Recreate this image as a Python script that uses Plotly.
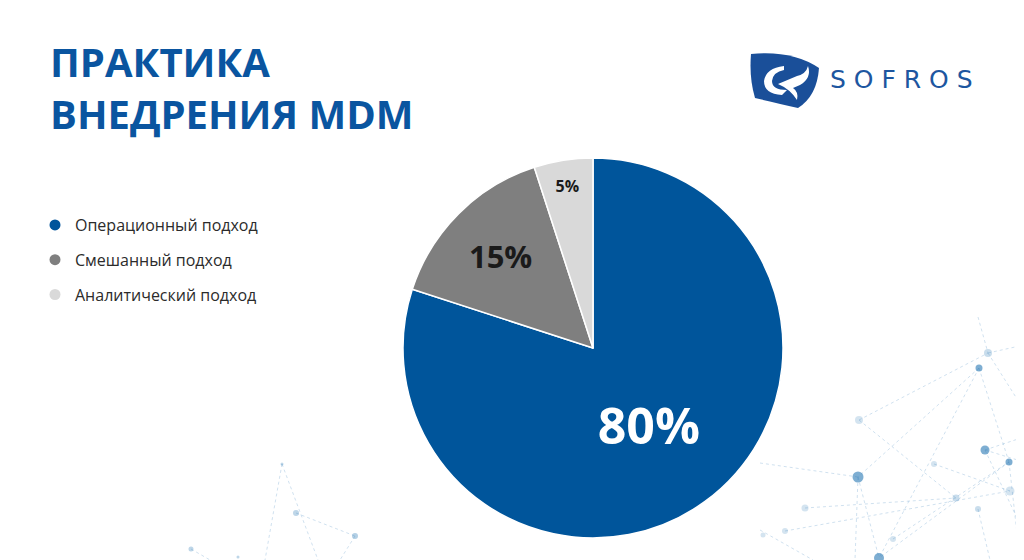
import plotly.graph_objects as go

# chart data
labels = ["Операционный подход", "Смешанный подход", "Аналитический подход"]
shares = [80, 15, 5]
colors = ["#00559b", "#7f7f7f", "#d9d9d9"]
text_colors = ["#ffffff", "#1a1a1a", "#1a1a1a"]
text_sizes = [50, 31, 16]

title_lines = ["ПРАКТИКА", "ВНЕДРЕНИЯ MDM"]

W, H = 1024, 560
OFF = 8  # page offset of the plot inside the browser window

# pie geometry in screen pixels
cx, cy, rad = 593, 348, 190

fig = go.Figure()

fig.add_trace(go.Pie(
    labels=labels,
    values=shares,
    sort=False,
    direction="clockwise",
    rotation=0,
    marker=dict(colors=colors, line=dict(color="#ffffff", width=1.5)),
    texttemplate="%{percent:.0%}",
    textposition="inside",
    insidetextorientation="horizontal",
    textfont=dict(family="Open Sans", size=text_sizes, color=text_colors, weight="bold"),
    domain=dict(x=[(cx - OFF - rad) / W, (cx - OFF + rad) / W],
                y=[(H - (cy - OFF) - rad) / H, (H - (cy - OFF) + rad) / H]),
    showlegend=False,
    hoverinfo="label+percent",
))

# legend with round markers
for name, c in zip(labels, colors):
    fig.add_trace(go.Scatter(
        x=[None], y=[None], mode="markers", name=name,
        marker=dict(color=c, size=11, symbol="circle"),
        legendgroup=name,
    ))

# background network decoration (screen pixels)
nodes = [
    (988, 353, 4, 0.25), (979, 368, 3.5, 0.6), (1021, 380, 4, 0.2),
    (859, 420, 4, 0.2), (985, 450, 4.5, 0.6), (1009, 462, 3.5, 0.6),
    (934, 464, 3, 0.2), (858, 477, 5.5, 0.6), (956, 498, 3.5, 0.25),
    (1010, 491, 4.5, 0.2), (978, 509, 3, 0.25), (805, 508, 3.5, 0.2),
    (785, 531, 3, 0.2), (763, 535, 2.5, 0.2), (893, 539, 3, 0.2),
    (879, 558, 5, 0.6),
    (282, 464, 1.5, 0.3), (296, 513, 3, 0.3), (355, 536, 3, 0.35),
    (191, 549, 2.5, 0.3), (238, 557, 1.5, 0.3),
]
edges = [
    ((979, 368), (858, 477)), ((979, 368), (879, 558)), ((859, 420), (988, 353)),
    ((859, 420), (956, 498)), ((760, 463), (858, 477)), ((858, 477), (879, 558)),
    ((858, 477), (855, 560)), ((985, 450), (1024, 462)), ((985, 450), (1024, 437)),
    ((1009, 462), (879, 558)), ((985, 450), (1024, 533)), ((805, 508), (956, 498)),
    ((760, 530), (813, 560)), ((979, 368), (1009, 462)), ((988, 353), (1024, 410)),
    ((978, 317), (988, 353)), ((934, 464), (1010, 491)), ((785, 531), (1010, 491)),
    ((893, 539), (1009, 462)), ((978, 509), (990, 560)), ((1009, 462), (1020, 560)),
    ((282, 464), (265, 560)), ((282, 464), (318, 560)), ((296, 513), (355, 536)),
    ((355, 536), (340, 560)), ((191, 549), (210, 560)), ((988, 353), (1024, 345)),
]
shapes = []
for (x0, y0), (x1, y1) in edges:
    shapes.append(dict(type="line", x0=x0, y0=y0, x1=x1, y1=y1, xref="x", yref="y",
                       line=dict(color="rgba(120,170,210,0.35)", width=1, dash="dot"),
                       layer="below"))
for x, y, r, a in nodes:
    shapes.append(dict(type="circle", x0=x - r, y0=y - r, x1=x + r, y1=y + r,
                       xref="x", yref="y", line=dict(width=0),
                       fillcolor=f"rgba(40,120,180,{a})", layer="below"))

# logo
shapes.append(dict(type="path", xref="x", yref="y",
                   path="M 751 54 Q 792 50 819 68 Q 817 96 798 108 Q 772 102 755 98 Q 749 78 751 54 Z",
                   fillcolor="#1a4f99", line=dict(width=0)))
shapes.append(dict(type="path", xref="x", yref="y",
                   path="M 784 66 Q 766 68 764 81 Q 764 94 782 95 L 787 90 Q 772 90 772 81 Q 773 72 784 70 Z",
                   fillcolor="#ffffff", line=dict(width=0)))
shapes.append(dict(type="path", xref="x", yref="y",
                   path="M 778 84 L 797 76 Q 806 74 808 66 Q 812 78 800 85 L 793 88 Q 799 92 797 100 Q 790 89 778 84 Z",
                   fillcolor="#ffffff", line=dict(width=0)))

annotations = [
    dict(text="<b>" + "<br>".join(title_lines) + "</b>", x=48, y=32, xref="x", yref="y",
         xanchor="left", yanchor="top", align="left", showarrow=False,
         font=dict(family="Open Sans", size=40, color="#0a55a0")),
    dict(text=" ".join("SOFROS"), x=828, y=79, xref="x", yref="y",
         xanchor="left", yanchor="middle", showarrow=False,
         font=dict(family="DejaVu Sans", size=25, color="#1d56a0")),
]

fig.update_layout(
    width=W, height=H,
    margin=dict(l=0, r=0, t=0, b=0),
    paper_bgcolor="#ffffff", plot_bgcolor="rgba(0,0,0,0)",
    xaxis=dict(range=[OFF, W + OFF], visible=False, domain=[0, 1], fixedrange=True),
    yaxis=dict(range=[H + OFF, OFF], visible=False, domain=[0, 1], fixedrange=True),
    shapes=shapes,
    annotations=annotations,
    legend=dict(x=(35 - OFF) / W, y=1 - (208 - OFF) / H, xanchor="left", yanchor="top",
                font=dict(family="Open Sans", size=16, color="#2b2b2b"),
                tracegroupgap=11, bgcolor="rgba(0,0,0,0)", itemclick=False),
)

fig.write_html("out.html")
